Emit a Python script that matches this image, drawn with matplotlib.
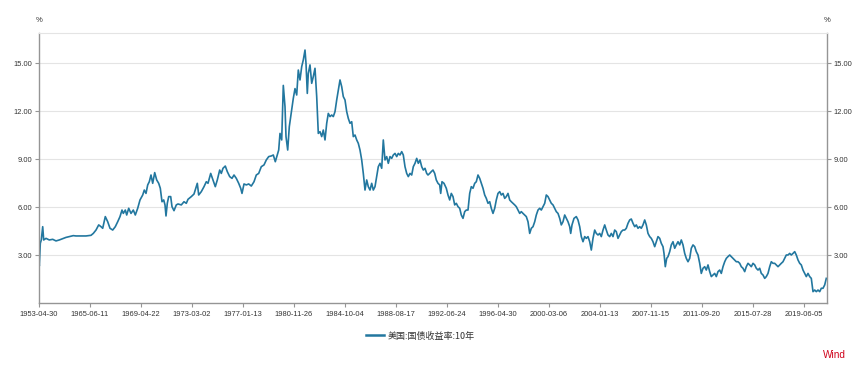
import matplotlib
matplotlib.use("Agg")
import matplotlib.pyplot as plt
from matplotlib.lines import Line2D

# observation number in the Wind series (x axis is by observation, not by date)
obs = [
    0, 12, 32, 52, 80, 100, 146, 212, 280, 346, 412, 480, 546, 612, 692, 746, 846, 946,
    1046, 1092, 1146, 1200, 1246, 1280, 1332, 1380, 1426, 1480, 1532, 1580, 1626, 1666,
    1692, 1732, 1760, 1800, 1846, 1892, 1932, 1980, 2026, 2080, 2112, 2146, 2180, 2212,
    2246, 2280, 2320, 2360, 2400, 2432, 2466, 2500, 2526, 2546, 2572, 2600,
    2640, 2666, 2706, 2752, 2786, 2852, 2906, 2952, 2986, 3052, 3106, 3152, 3172, 3200,
    3252, 3306, 3352, 3386, 3440, 3486, 3532, 3572, 3620, 3652, 3686, 3732, 3772, 3820,
    3866, 3906, 3952, 4000, 4040, 4066, 4106, 4152, 4200, 4252, 4306, 4352, 4400, 4452,
    4506, 4552, 4600, 4652, 4692, 4732, 4772, 4800,
    4826, 4860, 4892, 4926, 4946, 4980, 5012, 5060, 5092, 5126, 5160, 5192, 5226, 5260,
    5292, 5326, 5346, 5372, 5392, 5426, 5460, 5492, 5526, 5560, 5592, 5626, 5660, 5692,
    5726, 5760, 5792, 5826, 5860, 5892, 5926, 5960, 5992, 6026, 6060, 6092, 6126, 6160,
    6192, 6226, 6260, 6292, 6326, 6360, 6392, 6426, 6460, 6492, 6526, 6560, 6592, 6626,
    6660, 6692, 6726, 6760, 6792, 6826, 6860, 6892, 6926, 6960, 6992, 7026, 7060, 7092,
    7126, 7160, 7192, 7226, 7260, 7292, 7326, 7360, 7392, 7426, 7460, 7492, 7526, 7560,
    7592, 7626, 7660, 7692, 7726, 7760,
    7786, 7820, 7852, 7886, 7920, 7952, 7986, 8020, 8040, 8066, 8106, 8152, 8186, 8220,
    8252, 8286, 8320, 8352, 8386, 8420, 8452, 8486, 8520, 8552, 8586, 8620, 8652, 8686,
    8720, 8752, 8786, 8820, 8852, 8886, 8920, 8952, 8986, 9020, 9052, 9086, 9120, 9152,
    9186, 9220, 9252, 9286, 9320, 9352, 9386, 9420, 9452, 9486, 9520, 9552, 9586, 9620,
    9652, 9686, 9720, 9752, 9786, 9820, 9852, 9886, 9920, 9952, 9986, 10020, 10052,
    10086, 10120, 10152, 10186, 10220, 10252, 10286, 10320, 10352, 10386,
    10420, 10452, 10486, 10520, 10552, 10586, 10620, 10640, 10666, 10706, 10752, 10786,
    10820, 10852, 10886, 10920, 10952, 10986, 11020, 11052, 11086, 11120, 11152, 11186,
    11220, 11252, 11286, 11320, 11352, 11386, 11420, 11452, 11486, 11520, 11552, 11586,
    11620, 11652, 11686, 11720, 11752, 11786, 11820, 11852, 11886, 11920, 11952, 11986,
    12020, 12052, 12086, 12120, 12152, 12186, 12220, 12252, 12286, 12320, 12352, 12386,
    12420, 12452, 12486, 12506, 12532, 12560, 12586, 12620, 12652, 12686, 12720, 12752,
    12786, 12820, 12852, 12886, 12920, 12952, 12986,
    13020, 13052, 13086, 13120, 13152, 13186, 13220, 13252, 13286, 13320, 13352, 13386,
    13420, 13452, 13486, 13520, 13552, 13586, 13620, 13652, 13686, 13720, 13752, 13786,
    13820, 13852, 13886, 13920, 13952, 13986, 14020, 14052, 14086, 14120, 14152, 14186,
    14220, 14252, 14286, 14320, 14352, 14386, 14420, 14452, 14486, 14520, 14552, 14586,
    14620, 14652, 14686, 14720, 14752, 14786, 14820, 14852, 14886, 14920, 14952, 14986,
    15020, 15052, 15086, 15120, 15152, 15186, 15220, 15252, 15286, 15320, 15352, 15386,
    15420, 15452, 15486, 15520, 15552, 15586, 15620, 15652, 15686, 15720, 15752,
]

# 10-year US treasury yield, %
yld = [
    2.90, 2.31, 3.73, 3.94, 4.77, 3.94, 4.04, 3.94, 3.98, 3.88, 3.94, 4.02, 4.10, 4.15,
    4.21, 4.19, 4.19, 4.19, 4.23, 4.35, 4.56, 4.88, 4.77, 4.67, 5.40, 5.08, 4.67, 4.56,
    4.77, 5.08, 5.40, 5.81, 5.60, 5.81, 5.50, 5.92, 5.60, 5.81, 5.50, 5.92, 6.44, 6.75,
    7.06, 6.85, 7.38, 7.58, 8.00, 7.48, 8.15, 7.69, 7.48, 7.17, 6.33, 6.44, 6.13, 5.44,
    6.23, 6.65,
    6.65, 6.02, 5.77, 6.13, 6.19, 6.13, 6.33, 6.23, 6.48, 6.65, 6.81, 7.27, 7.48, 6.75,
    6.96, 7.27, 7.58, 7.48, 8.10, 7.69, 7.27, 7.69, 8.31, 8.10, 8.42, 8.56, 8.21, 7.90,
    7.79, 8.00, 7.79, 7.48, 7.17, 6.85, 7.44, 7.38, 7.44, 7.31, 7.58, 8.00, 8.10, 8.52,
    8.63, 8.94, 9.15, 9.19, 9.25, 8.83, 9.25, 9.56,
    10.60, 10.19, 13.60, 12.27, 10.40, 9.56, 11.02, 12.06, 12.79, 13.40, 13.00, 14.56,
    13.94, 14.77, 15.19, 15.81, 14.98, 13.10, 14.35, 14.88, 13.73, 14.15, 14.67, 12.90,
    10.60, 10.71, 10.40, 10.81, 10.19, 11.23, 11.85, 11.65, 11.75, 11.65, 11.96, 12.69,
    13.31, 13.94, 13.52, 12.90, 12.69, 11.96, 11.54, 11.23, 11.33, 10.40, 10.50, 10.19,
    9.98, 9.56, 8.94, 8.10, 7.06, 7.69, 7.27, 7.06, 7.48, 7.06, 7.27, 7.90, 8.52, 8.73,
    8.42, 10.19, 8.94, 9.15, 8.73, 9.15, 9.04, 9.25, 9.35, 9.15, 9.35, 9.25, 9.46, 9.25,
    8.52, 8.10, 7.90, 8.10, 8.00, 8.52, 8.73, 9.04, 8.73, 8.94, 8.52, 8.31, 8.42, 8.10,
    8.00, 8.10, 8.21, 8.31, 8.10, 7.69, 7.48, 7.38, 6.85, 7.58, 7.48, 7.17, 6.75, 6.44,
    6.85, 6.65, 6.13, 6.23, 6.02, 5.92, 5.50, 5.29, 5.71, 5.81, 5.81, 6.85, 7.27, 7.17,
    7.48, 7.58, 8.00, 7.79, 7.48, 7.17, 6.75, 6.54, 6.23, 6.33, 5.92, 5.60, 5.92, 6.44,
    6.85, 6.96, 6.75, 6.85, 6.54, 6.65, 6.85, 6.44, 6.33, 6.23, 6.13, 6.02, 5.81, 5.60,
    5.71, 5.60, 5.50, 5.40, 5.08, 4.35, 4.67, 4.77, 5.08, 5.50, 5.81, 5.92, 5.81, 6.02,
    6.23, 6.75, 6.65, 6.44, 6.23, 6.13, 5.92, 5.71, 5.60,
    5.29, 4.88, 5.08, 5.50, 5.29, 5.08, 4.77, 4.35, 4.88, 5.29, 5.40, 5.19, 4.77, 4.15,
    3.83, 4.15, 4.04, 4.15, 3.83, 3.31, 4.04, 4.56, 4.35, 4.25, 4.35, 4.15, 4.56, 4.88,
    4.56, 4.25, 4.15, 4.35, 4.15, 4.56, 4.46, 4.04, 4.25, 4.46, 4.56, 4.56, 4.67, 4.98,
    5.19, 5.25, 4.98, 4.77, 4.88, 4.67, 4.77, 4.67, 4.88, 5.19, 4.88, 4.35, 4.15, 4.04,
    3.83, 3.52, 3.83, 4.15, 4.04, 3.73, 3.52, 3.10, 2.27, 2.79, 2.90, 3.21, 3.63, 3.83,
    3.42, 3.63, 3.83, 3.63, 3.94, 3.63, 3.10, 2.79, 2.58,
    2.79, 3.42, 3.63, 3.52, 3.21, 3.00, 2.48, 1.85, 2.17, 2.27, 2.06, 2.38, 1.96, 1.65,
    1.75, 1.85, 1.65, 1.96, 2.06, 1.85, 2.27, 2.58, 2.79, 2.90, 3.00, 2.90, 2.79, 2.69,
    2.58, 2.58, 2.48, 2.27, 2.17, 1.96, 2.27, 2.48, 2.38, 2.27, 2.48, 2.38, 2.17, 2.06,
    2.17, 1.85, 1.75, 1.54, 1.65, 1.85, 2.27, 2.58, 2.48, 2.48, 2.38, 2.27, 2.38, 2.48,
    2.58, 2.79, 3.00, 3.00, 3.10, 3.00, 3.10, 3.21, 3.00, 2.69, 2.48, 2.38, 2.06, 1.85,
    1.65, 1.85, 1.65, 1.54, 0.71, 0.81, 0.71, 0.81, 0.71, 0.92, 0.92, 1.13, 1.54,
]

tick_obs = [0, 1020, 2040, 3060, 4080, 5100, 6120, 7140, 8160, 9180, 10200, 11220,
            12240, 13260, 14280, 15300]
tick_labels = ["1953-04-30", "1965-06-11", "1969-04-22", "1973-03-02", "1977-01-13",
               "1980-11-26", "1984-10-04", "1988-08-17", "1992-06-24", "1996-04-30",
               "2000-03-06", "2004-01-13", "2007-11-15", "2011-09-20", "2015-07-28",
               "2019-06-05"]
y_ticks = [3, 6, 9, 12, 15]
series_name = "美国:国债收益率:10年"

line_color = "#22779f"
axis_color = "#959595"
grid_color = "#e4e4e4"
text_color = "#333333"

plt.rcParams["font.family"] = ["Liberation Sans", "DejaVu Sans"]

fig = plt.figure(figsize=(8.64, 3.66), dpi=100)
ax = fig.add_axes([38.7 / 864, 1 - 303 / 366, 788 / 864, 270 / 366])

ax.plot(obs, yld, color=line_color, lw=1.2, solid_joinstyle="round")

ax.set_xlim(0, 15760)
ax.set_ylim(0, 16.875)
ax.set_xticks(tick_obs)
ax.set_xticklabels(tick_labels)
ax.set_yticks(y_ticks)
ax.set_yticklabels([f"{v:.2f}" for v in y_ticks])

ax.yaxis.grid(True, color=grid_color, lw=0.8)
ax.set_axisbelow(True)

for side in ("left", "right", "bottom"):
    ax.spines[side].set_color(axis_color)
    ax.spines[side].set_linewidth(1.0)
ax.spines["top"].set_color(grid_color)
ax.spines["top"].set_linewidth(0.8)

ax.tick_params(axis="y", left=True, right=True, labelleft=True, labelright=True,
               length=3, width=0.8, color=axis_color, labelcolor=text_color,
               labelsize=5.4, pad=2)
ax.tick_params(axis="x", length=3, width=0.8, color=axis_color,
               labelcolor=text_color, labelsize=5.4, pad=3)

fig.text(38.7 / 864, 1 - 20 / 366, "%", ha="center", va="center",
         fontsize=5.5, color=text_color)
fig.text(826.7 / 864, 1 - 20 / 366, "%", ha="center", va="center",
         fontsize=5.5, color=text_color)

handle = Line2D([], [], color=line_color, lw=1.8)
fig.legend([handle], [series_name], loc="center", bbox_to_anchor=(420 / 864, 1 - 336 / 366),
           frameon=False, handlelength=2.0, handletextpad=0.4,
           prop={"family": ["Noto Sans CJK SC", "DejaVu Sans"], "size": 6.5},
           labelcolor=text_color)

fig.text(846 / 864, 1 - 355 / 366, "Wind", ha="right", va="center",
         fontsize=7.2, color="#d0021b")

fig.savefig("out.png", dpi=100)
